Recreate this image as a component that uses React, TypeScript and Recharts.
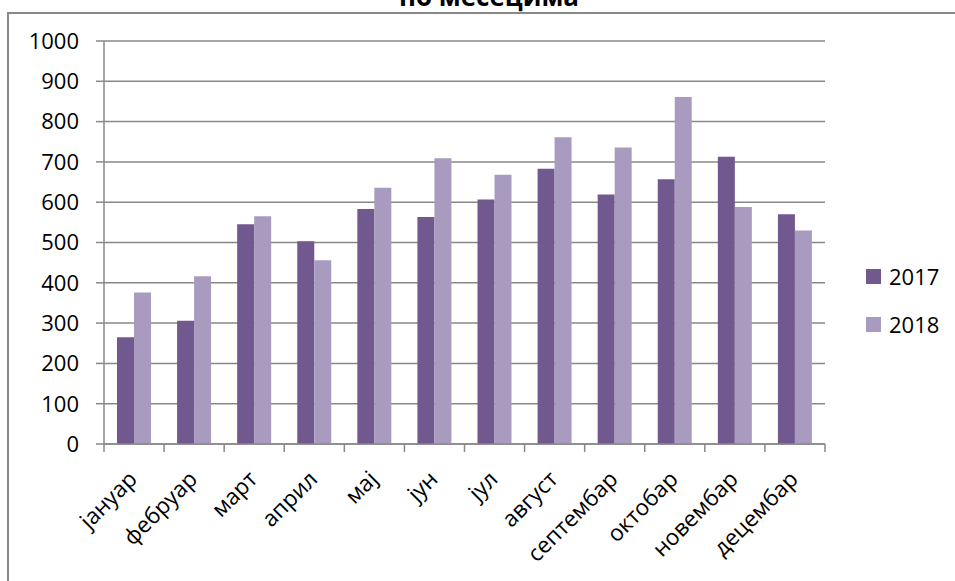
import { BarChart, Bar, XAxis, YAxis, CartesianGrid, Legend } from "recharts";

const months = [
  "јануар",
  "фебруар",
  "март",
  "април",
  "мај",
  "јун",
  "јул",
  "август",
  "септембар",
  "октобар",
  "новембар",
  "децембар",
];
const values2017 = [265, 306, 545, 503, 583, 563, 607, 683, 619, 657, 713, 570];
const values2018 = [376, 416, 565, 456, 636, 709, 668, 761, 736, 861, 588, 530];
const yTicks = [0, 100, 200, 300, 400, 500, 600, 700, 800, 900, 1000];
const seriesNames = ["2017", "2018"];

const COLOR_2017 = "#71598f";
const COLOR_2018 = "#a99bbf";
const GRID = "#888888";
const FONT = "'Open Sans', sans-serif";

const data = months.map((m, i) => ({
  month: m,
  y2017: values2017[i],
  y2018: values2018[i],
}));

// rotated label plus a boundary tick mark on the left edge of each category
function MonthTick(props: any) {
  const { x, y, payload, index } = props;
  const half = payload?.offset ?? 30;
  const last = index === months.length - 1;
  const ax = x - 9;
  const ay = y + 23;
  return (
    <g>
      <line x1={x - half} y1={y} x2={x - half} y2={y + 8} stroke={GRID} strokeWidth={1.5} />
      {last && <line x1={x + half} y1={y} x2={x + half} y2={y + 8} stroke={GRID} strokeWidth={1.5} />}
      <text
        x={ax}
        y={ay}
        transform={`rotate(-45, ${ax}, ${ay})`}
        textAnchor="end"
        dominantBaseline="hanging"
        fontSize={22.5}
        fontFamily={FONT}
        fill="#000"
      >
        {payload.value}
      </text>
    </g>
  );
}

function LegendBox() {
  const colors = [COLOR_2017, COLOR_2018];
  return (
    <div style={{ fontFamily: FONT, fontSize: 22, color: "#000" }}>
      {seriesNames.map((s, i) => (
        <div key={s} style={{ display: "flex", alignItems: "center", height: 48 }}>
          <span
            style={{ width: 15, height: 15, background: colors[i], marginRight: 8, display: "inline-block" }}
          />
          <span>{s}</span>
        </div>
      ))}
    </div>
  );
}

export default function App() {
  return (
    <div
      style={{
        position: "absolute",
        left: 0,
        top: 0,
        width: 955,
        height: 581,
        overflow: "hidden",
        background: "#fff",
      }}
    >
      <div
        style={{
          position: "absolute",
          left: 7,
          top: 12,
          width: 1100,
          height: 800,
          borderLeft: `2px solid ${GRID}`,
          borderTop: `2px solid ${GRID}`,
        }}
      />
      <div
        style={{
          position: "absolute",
          left: 0,
          top: -17,
          width: 978,
          textAlign: "center",
          fontFamily: FONT,
          fontWeight: 700,
          fontSize: 26,
          lineHeight: "26px",
        }}
      >
        по месецима
      </div>
      <div style={{ position: "absolute", left: 0, top: 0 }}>
        <BarChart
          width={955}
          height={581}
          data={data}
          margin={{ top: 41, right: 130, bottom: 0, left: 0 }}
          barCategoryGap={13}
          barGap={0}
        >
          <CartesianGrid horizontal vertical={false} stroke={GRID} strokeWidth={1.5} />
          <XAxis
            dataKey="month"
            height={137}
            tickLine={false}
            tickSize={0}
            tickMargin={0}
            axisLine={{ stroke: GRID, strokeWidth: 1.5 }}
            interval={0}
            tick={<MonthTick />}
          />
          <YAxis
            width={104}
            domain={[0, 1000]}
            ticks={yTicks}
            interval={0}
            tickSize={8}
            tickMargin={17}
            tickLine={{ stroke: GRID, strokeWidth: 1.5 }}
            axisLine={{ stroke: GRID, strokeWidth: 1.5 }}
            tick={{ fontSize: 22, fontFamily: FONT, fill: "#000" }}
          />
          <Legend
            layout="vertical"
            align="center"
            verticalAlign="middle"
            content={<LegendBox />}
            wrapperStyle={{ left: 866, top: 252, width: 90 }}
          />
          <Bar dataKey="y2017" name="2017" fill={COLOR_2017} isAnimationActive={false} />
          <Bar dataKey="y2018" name="2018" fill={COLOR_2018} isAnimationActive={false} />
        </BarChart>
      </div>
    </div>
  );
}
